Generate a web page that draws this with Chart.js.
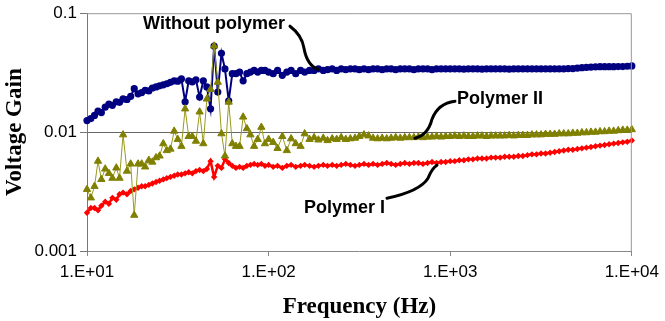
<!DOCTYPE html>
<html>
<head>
<meta charset="utf-8">
<script src="https://cdn.jsdelivr.net/npm/chart.js@4.4.1/dist/chart.umd.min.js"></script>
<style>
  body { margin: 0; background: #fff; }
  #wrap { width: 665px; height: 321px; }
</style>
</head>
<body>
<div id="wrap"><canvas id="gainChart"></canvas></div>
<script>
// frequency (Hz) of each measured point
var freq = [
  10, 10.5, 11, 11.5, 12, 12.6, 13.2, 13.8, 14.5, 15.1,
  15.8, 16.6, 17.4, 18.2, 19.1, 20, 20.9, 21.9, 22.9, 24,
  25.1, 26.3, 27.5, 28.8, 30.2, 31.6, 33.1, 34.7, 36.3, 38,
  39.8, 41.7, 43.7, 45.7, 47.9, 50.1, 52.5, 55, 57.5, 60.3,
  63.1, 66.1, 69.2, 72.4, 75.9, 79.4, 83.2, 87.1, 91.2, 95.5,
  100, 106, 112, 119, 126, 133, 141, 150, 158, 168,
  178, 188, 200, 211, 224, 237, 251, 266, 282, 299,
  316, 335, 355, 376, 398, 422, 447, 473, 501, 531,
  562, 596, 631, 668, 708, 750, 794, 841, 891, 944,
  1000, 1059, 1122, 1189, 1259, 1334, 1413, 1496, 1585, 1679,
  1778, 1884, 1995, 2113, 2239, 2371, 2512, 2661, 2818, 2985,
  3162, 3350, 3548, 3758, 3981, 4217, 4467, 4732, 5012, 5309,
  5623, 5957, 6310, 6683, 7079, 7499, 7943, 8414, 8913, 9441, 10000
];

var withoutPolymer = [
  0.0125, 0.0130, 0.0138, 0.0150, 0.0146, 0.0162, 0.0172, 0.0168, 0.0180, 0.0178,
  0.0190, 0.0188, 0.0200, 0.0232, 0.0210, 0.0215, 0.0225, 0.0222, 0.0235, 0.0240,
  0.0245, 0.0250, 0.0255, 0.0262, 0.0270, 0.0268, 0.0280, 0.0180, 0.0270, 0.0265,
  0.0275, 0.0197, 0.0270, 0.0240, 0.0157, 0.0530, 0.0217, 0.0460, 0.0340, 0.0183,
  0.0310, 0.0310, 0.0320, 0.0270, 0.0310, 0.0320, 0.0330, 0.0320, 0.0330, 0.0330,
  0.0320, 0.0310, 0.0330, 0.0300, 0.0320, 0.0330, 0.0310, 0.0330, 0.0320, 0.0330,
  0.0330, 0.0340, 0.0330, 0.0335, 0.0340, 0.0330, 0.0340, 0.0335, 0.0340, 0.0340,
  0.0335, 0.0340, 0.0335, 0.0340, 0.0340, 0.0335, 0.0340, 0.0340, 0.0335, 0.0340,
  0.0340, 0.0340, 0.0335, 0.0340, 0.0340, 0.0340, 0.0335, 0.0340, 0.0340, 0.0340,
  0.0340, 0.0340, 0.0340, 0.0338, 0.0340, 0.0340, 0.0340, 0.0338, 0.0340, 0.0340,
  0.0340, 0.0340, 0.0340, 0.0338, 0.0340, 0.0340, 0.0340, 0.0340, 0.0340, 0.0340,
  0.0340, 0.0340, 0.0340, 0.0340, 0.0340, 0.0340, 0.0342, 0.0342, 0.0345, 0.0348,
  0.0350, 0.0352, 0.0354, 0.0355, 0.0355, 0.0355, 0.0355, 0.0356, 0.0356, 0.0358, 0.0360
];

var polymerII = [
  0.0033, 0.0028, 0.0035, 0.0057, 0.0040, 0.0049, 0.0045, 0.0041, 0.0050, 0.0041,
  0.0095, 0.0047, 0.0054, 0.0020, 0.0054, 0.0054, 0.0051, 0.0058, 0.0056, 0.0061,
  0.0063, 0.0080, 0.0070, 0.0072, 0.0102, 0.0087, 0.0076, 0.0157, 0.0092, 0.0092,
  0.0084, 0.0148, 0.0080, 0.0190, 0.0229, 0.0530, 0.0263, 0.0097, 0.0063, 0.0179,
  0.0080, 0.0076, 0.0076, 0.0134, 0.0107, 0.0095, 0.0076, 0.0087, 0.0110, 0.0080,
  0.0087, 0.0082, 0.0073, 0.0092, 0.0070, 0.0088, 0.0080, 0.0076, 0.0097, 0.0087,
  0.0090, 0.0086, 0.0089, 0.0085, 0.0088, 0.0087, 0.0090, 0.0087, 0.0088, 0.0089,
  0.0092, 0.0095, 0.0093, 0.0089, 0.0088, 0.0089, 0.0088, 0.0089, 0.0090, 0.0089,
  0.0090, 0.0090, 0.0090, 0.0091, 0.0090, 0.0091, 0.0091, 0.0092, 0.0091, 0.0092,
  0.0092, 0.0093, 0.0092, 0.0093, 0.0092, 0.0092, 0.0093, 0.0093, 0.0092, 0.0093,
  0.0093, 0.0093, 0.0093, 0.0094, 0.0093, 0.0094, 0.0094, 0.0094, 0.0095, 0.0095,
  0.0095, 0.0096, 0.0096, 0.0096, 0.0097, 0.0097, 0.0097, 0.0098, 0.0098, 0.0099,
  0.0099, 0.0100, 0.0100, 0.0101, 0.0101, 0.0102, 0.0102, 0.0103, 0.0104, 0.0104, 0.0105
];

var polymerI = [
  0.0021, 0.0023, 0.0023, 0.0022, 0.0024, 0.0026, 0.0025, 0.0028, 0.0027, 0.0030,
  0.0031, 0.0030, 0.0032, 0.0033, 0.0034, 0.0035, 0.0035, 0.0036, 0.0037, 0.0038,
  0.0039, 0.0040, 0.0041, 0.0042, 0.0043, 0.0044, 0.0044, 0.0045, 0.0046, 0.0045,
  0.0047, 0.0048, 0.0047, 0.0049, 0.0057, 0.0042, 0.0052, 0.0050, 0.0059, 0.0055,
  0.0052, 0.0050, 0.0051, 0.0050, 0.0052, 0.0053, 0.0054, 0.0053, 0.0054, 0.0052,
  0.0053, 0.0051, 0.0052, 0.0050, 0.0052, 0.0053, 0.0051, 0.0052, 0.0053, 0.0052,
  0.0051, 0.0052, 0.0053, 0.0052, 0.0053, 0.0052, 0.0053, 0.0054, 0.0053, 0.0052,
  0.0053, 0.0054, 0.0053, 0.0054, 0.0053, 0.0054, 0.0055, 0.0054, 0.0053, 0.0054,
  0.0055, 0.0054, 0.0055, 0.0055, 0.0054, 0.0055, 0.0056, 0.0055, 0.0056, 0.0056,
  0.0057, 0.0057, 0.0058, 0.0058, 0.0059, 0.0059, 0.0060, 0.0060, 0.0060, 0.0061,
  0.0061, 0.0061, 0.0062, 0.0062, 0.0062, 0.0063, 0.0063, 0.0064, 0.0065, 0.0065,
  0.0066, 0.0066, 0.0067, 0.0068, 0.0069, 0.0070, 0.0071, 0.0071, 0.0072, 0.0073,
  0.0074, 0.0075, 0.0076, 0.0077, 0.0078, 0.0079, 0.0080, 0.0081, 0.0082, 0.0083, 0.0085
];

var xTickValues = [10, 100, 1000, 10000];
var xTickLabels = ['1.E+01', '1.E+02', '1.E+03', '1.E+04'];
var yTickValues = [0.001, 0.01, 0.1];
var yTickLabels = ['0.001', '0.01', '0.1'];

function toPoints(values) {
  return freq.map(function (f, i) { return { x: f, y: values[i] }; });
}

// text labels with curved leader lines, offsets from the plot's top-left corner
var notes = [
  { text: 'Without polymer', x: 127, y: 16, align: 'center',
    path: [[203, 13], [215, 22, 217, 35], [220, 52, 231, 56]] },
  { text: 'Polymer II', x: 370, y: 91, align: 'left',
    path: [[368, 88], [351, 90, 345, 106], [341, 122, 328, 125]] },
  { text: 'Polymer I', x: 217, y: 200, align: 'left',
    path: [[300, 185], [333, 178, 341, 165], [345, 155, 350, 152]] }
];

var notesPlugin = {
  id: 'notes',
  afterDraw: function (chart) {
    var c = chart.ctx, a = chart.chartArea;
    c.save();
    // frame on top and right
    c.strokeStyle = '#999';
    c.lineWidth = 1;
    c.beginPath();
    c.moveTo(a.left, a.top + 0.5);
    c.lineTo(a.right - 0.5, a.top + 0.5);
    c.lineTo(a.right - 0.5, a.bottom);
    c.stroke();

    c.font = 'bold 18px "Liberation Sans", Arial, sans-serif';
    c.fillStyle = '#000';
    c.textBaseline = 'alphabetic';
    notes.forEach(function (n) {
      c.textAlign = n.align;
      c.fillText(n.text, a.left + n.x, a.top + n.y);
      c.beginPath();
      c.lineWidth = 3;
      c.strokeStyle = '#000';
      c.lineCap = 'round';
      c.moveTo(a.left + n.path[0][0], a.top + n.path[0][1]);
      for (var i = 1; i < n.path.length; i++) {
        var p = n.path[i];
        c.quadraticCurveTo(a.left + p[0], a.top + p[1], a.left + p[2], a.top + p[3]);
      }
      c.stroke();
    });
    c.restore();
  }
};

var ctx = document.getElementById('gainChart').getContext('2d');
var myChart = new Chart(ctx, {
  type: 'line',
  data: {
    datasets: [{
      label: 'Polymer II',
      data: toPoints(polymerII),
      borderColor: '#9a9a1e',
      backgroundColor: '#808000',
      pointBorderColor: '#808000',
      borderWidth: 1,
      pointStyle: 'triangle',
      pointRadius: 4.2,
      pointBorderWidth: 1,
      order: 0
    }, {
      label: 'Without polymer',
      data: toPoints(withoutPolymer),
      borderColor: '#000080',
      backgroundColor: '#000080',
      borderWidth: 2,
      pointStyle: 'circle',
      pointRadius: 3.6,
      pointBorderWidth: 0,
      order: 1
    }, {
      label: 'Polymer I',
      data: toPoints(polymerI),
      borderColor: '#ff0000',
      backgroundColor: '#ff0000',
      borderWidth: 2.5,
      pointStyle: 'rectRot',
      pointRadius: 3.2,
      pointBorderWidth: 0,
      order: 2
    }]
  },
  options: {
    responsive: true,
    maintainAspectRatio: false,
    animation: false,
    clip: false,
    layout: { padding: { left: 0, right: 26, top: 10, bottom: 0 } },
    plugins: {
      legend: { display: false },
      tooltip: { enabled: false }
    },
    scales: {
      x: {
        type: 'logarithmic',
        min: 10,
        max: 10000,
        afterBuildTicks: function (s) {
          s.ticks = xTickValues.map(function (v) { return { value: v }; });
        },
        afterFit: function (s) { s.height = 70; },
        ticks: {
          autoSkip: false,
          maxRotation: 0,
          padding: 6,
          color: '#000',
          font: { family: '"Liberation Sans", Arial, sans-serif', size: 17 },
          callback: function (v) { return xTickLabels[xTickValues.indexOf(v)]; }
        },
        grid: { drawOnChartArea: false, tickLength: 5, tickColor: '#888' },
        border: { color: '#888', width: 1 },
        title: {
          display: true,
          text: 'Frequency (Hz)',
          color: '#000',
          padding: { top: 3, bottom: 0 },
          font: { family: '"Liberation Serif", "Times New Roman", serif', size: 23, weight: 'bold' }
        }
      },
      y: {
        type: 'logarithmic',
        min: 0.001,
        max: 0.1,
        afterBuildTicks: function (s) {
          s.ticks = yTickValues.map(function (v) { return { value: v }; });
        },
        afterFit: function (s) { s.width = 87; },
        ticks: {
          padding: 3,
          color: '#000',
          font: { family: '"Liberation Sans", Arial, sans-serif', size: 17 },
          callback: function (v) { return yTickLabels[yTickValues.indexOf(v)]; }
        },
        grid: {
          tickLength: 7,
          tickColor: '#777',
          color: function (c) { return c.tick && c.tick.value === 0.01 ? '#666' : 'rgba(0,0,0,0)'; }
        },
        border: { color: '#777', width: 1 },
        title: {
          display: true,
          text: 'Voltage Gain',
          color: '#000',
          padding: { top: 1, bottom: 0 },
          font: { family: '"Liberation Serif", "Times New Roman", serif', size: 23, weight: 'bold' }
        }
      }
    }
  },
  plugins: [notesPlugin]
});
</script>
</body>
</html>
